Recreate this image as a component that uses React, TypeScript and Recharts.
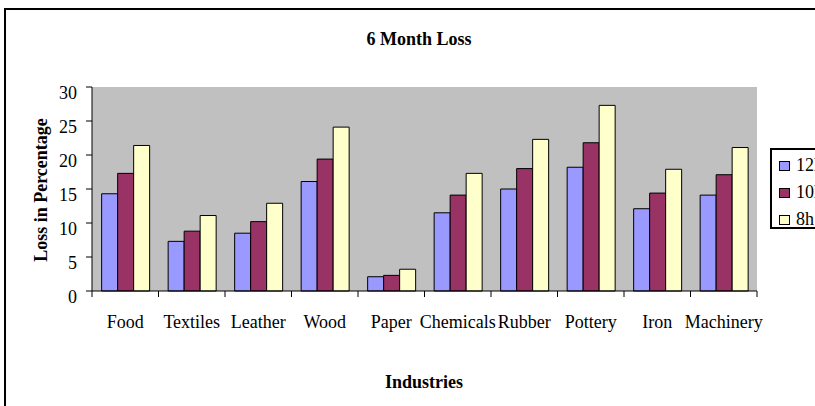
import { BarChart, Bar, XAxis, YAxis, CartesianGrid, Label } from "recharts";

const categories = ['Food', 'Textiles', 'Leather', 'Wood', 'Paper', 'Chemicals', 'Rubber', 'Pottery', 'Iron', 'Machinery'];
const loss12h = [14.3, 7.3, 8.5, 16.1, 2.1, 11.5, 15.0, 18.2, 12.1, 14.1];
const loss10h = [17.3, 8.8, 10.2, 19.4, 2.3, 14.1, 18.0, 21.8, 14.4, 17.1];
const loss8h = [21.4, 11.1, 12.9, 24.1, 3.2, 17.3, 22.3, 27.3, 17.9, 21.1];
const seriesNames = ['12h', '10h', '8h'];
const seriesColors = ['#9999FF', '#993366', '#FFFFCC'];
const yTicks = [0, 5, 10, 15, 20, 25, 30];

const data = categories.map((name, i) => ({
  name,
  h12: loss12h[i],
  h10: loss10h[i],
  h8: loss8h[i],
}));

const FONT = '"Liberation Serif", "Times New Roman", serif';
const W = 870;
const H = 406;
const margin = { top: 87, right: 113, bottom: 0, left: 42 };
const halfBand = (W - margin.left - 50 - margin.right) / categories.length / 2;

const XTick = ({ x, y, payload, index }: any) => (
  <g>
    <line x1={x - halfBand} y1={y} x2={x - halfBand} y2={y + 6} stroke="#000" />
    {index === categories.length - 1 && (
      <line x1={x + halfBand} y1={y} x2={x + halfBand} y2={y + 6} stroke="#000" />
    )}
    <text x={x} y={y + 37} textAnchor="middle" fontFamily={FONT} fontSize={18} fill="#000">
      {payload.value}
    </text>
  </g>
);

const YTick = ({ x, y, payload }: any) => (
  <text x={x} y={y + 12} textAnchor="end" fontFamily={FONT} fontSize={18} fill="#000">
    {payload.value}
  </text>
);

const App = () => {
  return (
    <div style={{ position: 'absolute', left: 0, top: 0, width: 815, height: 406, overflow: 'hidden', background: '#fff' }}>
      <div style={{ position: 'absolute', left: 4, top: 8, width: 900, height: 500, borderLeft: '2px solid #000', borderTop: '2px solid #000' }} />
      <div style={{ position: 'absolute', left: 0, top: 0 }}>
        <BarChart width={W} height={H} data={data} margin={margin} barCategoryGap="14.5%" barGap={0}>
          <CartesianGrid fill="#C0C0C0" horizontal={false} vertical={false} />
          <XAxis
            dataKey="name"
            height={115}
            axisLine={{ stroke: '#000' }}
            tickLine={false}
            tickSize={0}
            tickMargin={0}
            interval={0}
            tick={<XTick />}
          >
            <Label
              content={() => (
                <g>
                  <text x={424} y={388} textAnchor="middle" fontFamily={FONT} fontSize={18} fontWeight="bold" fill="#000">
                    Industries
                  </text>
                  <text x={419} y={45} textAnchor="middle" fontFamily={FONT} fontSize={18} fontWeight="bold" fill="#000">
                    6 Month Loss
                  </text>
                </g>
              )}
            />
          </XAxis>
          <XAxis
            xAxisId="top"
            dataKey="name"
            orientation="top"
            height={0}
            tick={false}
            tickLine={false}
            axisLine={{ stroke: '#808080' }}
          />
          <YAxis
            width={50}
            domain={[0, 30]}
            ticks={yTicks}
            interval={0}
            axisLine={{ stroke: '#000' }}
            tickLine={{ stroke: '#000' }}
            tickSize={6}
            tickMargin={9}
            tick={<YTick />}
          >
            <Label
              content={() => (
                <text
                  x={47}
                  y={190}
                  transform="rotate(-90 47 190)"
                  textAnchor="middle"
                  fontFamily={FONT}
                  fontSize={18}
                  fontWeight="bold"
                  fill="#000"
                >
                  Loss in Percentage
                </text>
              )}
            />
          </YAxis>
          <YAxis
            yAxisId="right"
            orientation="right"
            width={0}
            domain={[0, 30]}
            tick={false}
            tickLine={false}
            axisLine={{ stroke: '#808080' }}
          />
          <Bar dataKey="h12" name={seriesNames[0]} fill={seriesColors[0]} stroke="#000" strokeWidth={1} isAnimationActive={false} />
          <Bar dataKey="h10" name={seriesNames[1]} fill={seriesColors[1]} stroke="#000" strokeWidth={1} isAnimationActive={false} />
          <Bar dataKey="h8" name={seriesNames[2]} fill={seriesColors[2]} stroke="#000" strokeWidth={1} isAnimationActive={false} />
        </BarChart>
      </div>
      {/* legend box, cut off by the right edge like the original */}
      <div
        style={{
          position: 'absolute',
          left: 770,
          top: 148,
          width: 70,
          height: 81,
          border: '2px solid #000',
          background: '#fff',
          paddingTop: 2,
          boxSizing: 'border-box',
          fontFamily: FONT,
          fontSize: 18,
        }}
      >
        {seriesNames.map((s, i) => (
          <div key={s} style={{ display: 'flex', alignItems: 'center', height: 27 }}>
            <span style={{ display: 'inline-block', width: 9, height: 8, marginLeft: 7, marginRight: 6, background: seriesColors[i], border: '1px solid #000' }} />
            <span>{s}</span>
          </div>
        ))}
      </div>
    </div>
  );
};

export default App;
